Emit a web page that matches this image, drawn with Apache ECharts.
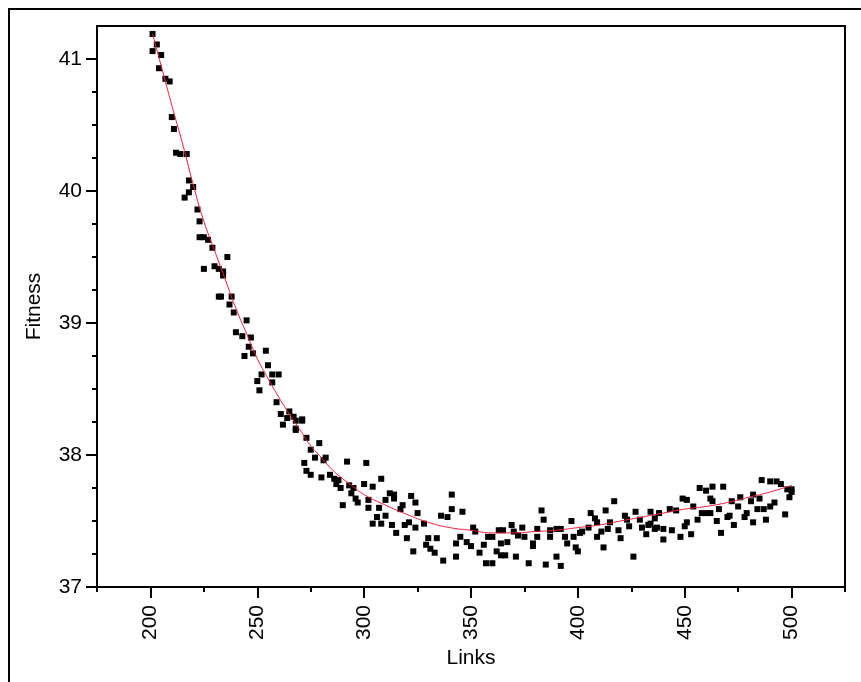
<!DOCTYPE html>
<html>
<head>
<meta charset="utf-8">
<script src="https://cdn.jsdelivr.net/npm/echarts@6/dist/echarts.min.js"></script>
<style>
html,body{margin:0;padding:0;background:#fff;}
#chart{width:861px;height:682px;}
</style>
</head>
<body>
<div id="chart"></div>
<script>
// Observed data: [links, fitness]
const points = [
[201,41.06],[201,41.19],[203,41.11],[204,40.93],[205,41.03],[207,40.85],[209,40.83],[210,40.56],
[211,40.47],[212,40.29],[214,40.28],[216,39.95],[217,40.28],[218,40.08],[218,39.99],[220,40.03],
[222,39.86],[223,39.77],[223,39.65],[225,39.65],[227,39.63],[229,39.57],[225,39.41],[230,39.43],
[232,39.41],[234,39.39],[234,39.36],[236,39.50],[232,39.20],[233,39.20],[238,39.20],[237,39.14],
[239,39.08],[240,38.93],[243,38.90],[245,39.02],[244,38.75],[246,38.82],[247,38.89],[248,38.77],
[250,38.56],[251,38.49],[252,38.61],[254,38.79],[255,38.68],[257,38.55],[257,38.61],[259,38.40],
[260,38.61],[261,38.31],[262,38.23],[264,38.28],[265,38.33],[267,38.29],[268,38.19],[268,38.26],
[268,38.20],[271,38.27],[271,38.26],[272,37.94],[273,38.13],[273,37.88],[275,37.85],[275,38.04],
[277,37.98],[279,38.09],[280,37.83],[281,37.96],[282,37.98],[284,37.85],[286,37.82],[287,37.78],
[288,37.81],[289,37.75],[290,37.62],[292,37.95],[293,37.77],[294,37.71],[295,37.75],[296,37.67],
[297,37.64],[300,37.78],[301,37.94],[302,37.60],[302,37.66],[304,37.48],[304,37.76],[306,37.53],
[307,37.60],[308,37.82],[308,37.48],[310,37.66],[310,37.54],[312,37.71],[313,37.47],[314,37.67],
[314,37.70],[315,37.41],[317,37.59],[318,37.62],[319,37.47],[320,37.37],[321,37.49],[322,37.69],
[323,37.27],[324,37.45],[324,37.64],[325,37.56],[328,37.48],[329,37.32],[330,37.37],[331,37.29],
[333,37.26],[334,37.37],[336,37.54],[337,37.20],[339,37.53],[341,37.59],[341,37.70],[343,37.33],
[343,37.23],[345,37.38],[346,37.57],[348,37.34],[350,37.31],[351,37.45],[352,37.42],[354,37.26],
[356,37.32],[357,37.18],[358,37.38],[360,37.18],[360,37.38],[362,37.27],[363,37.43],[364,37.24],
[364,37.33],[365,37.43],[366,37.24],[367,37.34],[369,37.47],[370,37.42],[371,37.23],[372,37.39],
[374,37.45],[375,37.38],[377,37.18],[379,37.33],[379,37.31],[381,37.44],[381,37.38],[383,37.58],
[384,37.51],[385,37.17],[387,37.43],[387,37.38],[390,37.44],[390,37.23],[392,37.44],[392,37.16],
[394,37.38],[395,37.33],[397,37.50],[398,37.38],[399,37.30],[400,37.27],[401,37.41],[402,37.42],
[405,37.45],[406,37.56],[408,37.52],[409,37.38],[409,37.49],[411,37.42],[412,37.30],[413,37.58],
[414,37.44],[415,37.49],[417,37.65],[419,37.43],[420,37.37],[422,37.54],[423,37.51],[424,37.46],
[426,37.23],[427,37.57],[429,37.51],[430,37.45],[432,37.40],[433,37.47],[434,37.48],[434,37.57],
[436,37.44],[436,37.52],[437,37.45],[438,37.56],[440,37.44],[440,37.36],[443,37.59],[444,37.43],
[446,37.58],[448,37.38],[449,37.67],[450,37.46],[451,37.66],[451,37.49],[453,37.40],[454,37.61],
[456,37.51],[457,37.75],[458,37.56],[460,37.73],[460,37.56],[462,37.67],[462,37.56],[463,37.76],
[463,37.65],[465,37.50],[466,37.59],[467,37.41],[468,37.76],[470,37.53],[471,37.54],[472,37.65],
[473,37.47],[475,37.61],[476,37.68],[478,37.53],[479,37.56],[481,37.65],[482,37.70],[482,37.49],
[484,37.59],[485,37.67],[486,37.81],[487,37.59],[488,37.51],[490,37.80],[490,37.61],[492,37.64],
[493,37.80],[495,37.78],[497,37.55],[498,37.74],[499,37.68],[500,37.74],[500,37.72]
];

// Fitted curve
const fitLinks  = [201,205,210,215,220,225,230,235,240,245,250,255,260,265,270,275,280,285,290,295,300,310,320,330,340,350,360,370,380,390,400,410,420,430,440,450,460,470,480,490,500];
const fitValues = [41.19,40.95,40.65,40.36,40.05,39.77,39.55,39.33,39.11,38.92,38.73,38.58,38.44,38.31,38.19,38.07,37.98,37.89,37.82,37.76,37.70,37.62,37.55,37.49,37.45,37.43,37.41,37.41,37.42,37.43,37.45,37.47,37.50,37.53,37.56,37.59,37.61,37.64,37.68,37.72,37.77];

const xMajorTicks = [200,250,300,350,400,450,500];
const xMinorTicks = [175,225,275,325,375,425,475,525];
const yMajorTicks = [37,38,39,40,41];
const yMinorTicks = [37.25,37.5,37.75,38.25,38.5,38.75,39.25,39.5,39.75,40.25,40.5,40.75];

const FONT = 'Liberation Sans, Arial, sans-serif';
const FS = 21;

const chart = echarts.init(document.getElementById('chart'), null, {renderer:'canvas'});
chart.setOption({
  animation:false,
  backgroundColor:'#fff',
  graphic:[{
    type:'rect', silent:true, z:-1,
    shape:{x:9,y:9,width:1000,height:1000},
    style:{fill:'none',stroke:'#000',lineWidth:2}
  }],
  grid:{left:97,top:26,right:16,bottom:95,show:true,borderColor:'#000',borderWidth:2,backgroundColor:'transparent'},
  xAxis:[{
    type:'value', min:175, max:525, position:'bottom', gridIndex:0,
    name:'Links', nameLocation:'middle', nameGap:56,
    nameTextStyle:{fontFamily:FONT,fontSize:FS,color:'#000'},
    axisLine:{show:true,onZero:false,lineStyle:{color:'#000',width:2}},
    axisTick:{show:true,customValues:xMajorTicks,length:11,lineStyle:{color:'#000',width:2}},
    axisLabel:{show:true,customValues:xMajorTicks,rotate:90,margin:18,fontFamily:FONT,fontSize:FS,color:'#000'},
    splitLine:{show:false}
  },{
    type:'value', min:175, max:525, position:'bottom', gridIndex:0,
    axisLine:{show:false},
    axisTick:{show:true,customValues:xMinorTicks,length:5,lineStyle:{color:'#000',width:2}},
    axisLabel:{show:false},
    splitLine:{show:false}
  }],
  yAxis:[{
    type:'value', min:37, max:41.25, position:'left', gridIndex:0,
    name:'Fitness', nameLocation:'middle', nameGap:52, nameRotate:90,
    nameTextStyle:{fontFamily:FONT,fontSize:FS,color:'#000'},
    axisLine:{show:true,onZero:false,lineStyle:{color:'#000',width:2}},
    axisTick:{show:true,customValues:yMajorTicks,length:11,lineStyle:{color:'#000',width:2}},
    axisLabel:{show:true,customValues:yMajorTicks,margin:15,fontFamily:FONT,fontSize:FS,color:'#000'},
    splitLine:{show:false}
  },{
    type:'value', min:37, max:41.25, position:'left', gridIndex:0,
    axisLine:{show:false},
    axisTick:{show:true,customValues:yMinorTicks,length:5,lineStyle:{color:'#000',width:2}},
    axisLabel:{show:false},
    splitLine:{show:false}
  }],
  series:[{
    type:'scatter', xAxisIndex:0, yAxisIndex:0,
    symbol:'rect', symbolSize:6,
    itemStyle:{color:'#000',opacity:1},
    data:points, z:2
  },{
    type:'line', xAxisIndex:0, yAxisIndex:0,
    data:fitLinks.map((x,i)=>[x,fitValues[i]]),
    smooth:true, showSymbol:false,
    lineStyle:{color:'#f0203a',width:1},
    z:3
  }]
});
</script>
</body>
</html>
